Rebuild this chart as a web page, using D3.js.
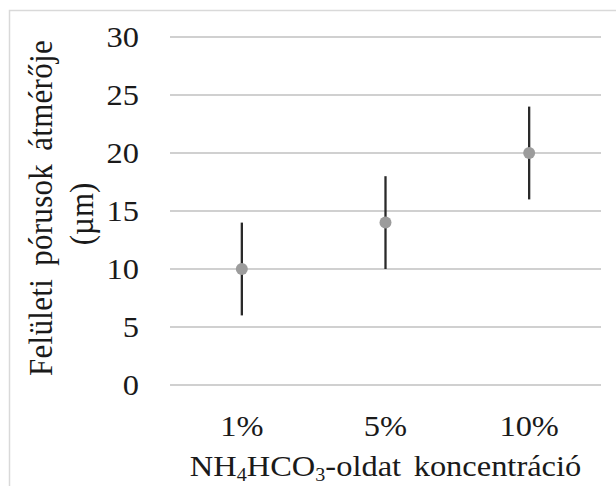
<!DOCTYPE html>
<html>
<head>
<meta charset="utf-8">
<script src="https://cdn.jsdelivr.net/npm/d3@7"></script>
<style>
  body { margin: 0; background: #fff; }
</style>
</head>
<body>
<svg id="chart"></svg>
<script>
const categories = ['1%', '5%', '10%'];
const means = [10, 14, 20];
const lows = [6, 10, 16];
const highs = [14, 18, 24];
const yTicks = [0, 5, 10, 15, 20, 25, 30];

const W = 616;
const H = 486;
const margin = { top: 37, right: 15, bottom: 101, left: 170 };
const width = W - margin.left - margin.right;
const height = H - margin.top - margin.bottom;
const stretch = 1.12; // the source picture is stretched sideways
const fs = 29;
const serif = 'Liberation Serif';
const ink = '#1a1a1a';

const svg = d3.select('#chart')
  .attr('width', W)
  .attr('height', H)
  .attr('font-family', serif);

svg.append('rect')
  .attr('width', W).attr('height', H)
  .attr('fill', '#fff');

// outer frame, only top and left edges show
svg.append('path')
  .attr('d', `M9.5,${H} V10.5 H${W}`)
  .attr('fill', 'none')
  .attr('stroke', '#d9d9d9')
  .attr('stroke-width', 1.5);

const chart = svg.append('g')
  .attr('transform', `translate(${margin.left},${margin.top})`);

const x = d3.scaleBand()
  .domain(categories)
  .range([0, width]);

const y = d3.scaleLinear()
  .domain([0, 30])
  .range([height, 0]);

const cx = (c) => x(c) + x.bandwidth() / 2;

// gridlines
chart.append('g')
  .selectAll('line')
  .data(yTicks)
  .join('line')
  .attr('x1', 0)
  .attr('x2', width)
  .attr('y1', (d) => y(d))
  .attr('y2', (d) => y(d))
  .attr('stroke', '#d0d0d0')
  .attr('stroke-width', 2);

// y tick labels
chart.append('g')
  .selectAll('text')
  .data(yTicks)
  .join('text')
  .attr('text-anchor', 'end')
  .attr('font-size', fs)
  .attr('fill', ink)
  .attr('transform', (d) => `translate(-31,${y(d) + 10}) scale(${stretch},1)`)
  .text((d) => d);

// x tick labels
chart.append('g')
  .selectAll('text')
  .data(categories)
  .join('text')
  .attr('text-anchor', 'middle')
  .attr('font-size', fs)
  .attr('fill', ink)
  .attr('transform', (d) => `translate(${cx(d)},${height + 51}) scale(${stretch},1)`)
  .text((d) => d);

// error bars and points
const pts = categories.map((c, i) => ({
  c, m: means[i], lo: lows[i], hi: highs[i],
}));

chart.append('g')
  .selectAll('line')
  .data(pts)
  .join('line')
  .attr('x1', (d) => cx(d.c))
  .attr('x2', (d) => cx(d.c))
  .attr('y1', (d) => y(d.lo))
  .attr('y2', (d) => y(d.hi))
  .attr('stroke', '#2a2a2a')
  .attr('stroke-width', 2.3);

chart.append('g')
  .selectAll('circle')
  .data(pts)
  .join('circle')
  .attr('cx', (d) => cx(d.c))
  .attr('cy', (d) => y(d.m))
  .attr('r', 6)
  .attr('fill', '#9c9c9c');

// x axis title with subscripts
const xTitle = svg.append('text')
  .attr('text-anchor', 'middle')
  .attr('font-size', fs)
  .attr('fill', ink)
  .attr('word-spacing', 4)
  .attr('transform', `translate(${margin.left + width / 2},476) scale(${stretch},1)`);
xTitle.append('tspan').text('NH');
xTitle.append('tspan').attr('font-size', 18).attr('dy', 5).text('4');
xTitle.append('tspan').attr('dy', -5).text('HCO');
xTitle.append('tspan').attr('font-size', 18).attr('dy', 5).text('3');
xTitle.append('tspan').attr('dy', -5).text('-oldat koncentráció');

// y axis title, two lines
svg.append('text')
  .attr('text-anchor', 'middle')
  .attr('font-size', 31)
  .attr('fill', ink)
  .attr('letter-spacing', 0.3)
  .attr('word-spacing', 5)
  .attr('transform', `translate(52,208) scale(${stretch},1) rotate(-90)`)
  .text('Felületi pórusok átmérője');

svg.append('text')
  .attr('text-anchor', 'middle')
  .attr('font-size', 31)
  .attr('fill', ink)
  .attr('transform', `translate(93,214) scale(${stretch},1) rotate(-90)`)
  .text('(µm)');
</script>
</body>
</html>
